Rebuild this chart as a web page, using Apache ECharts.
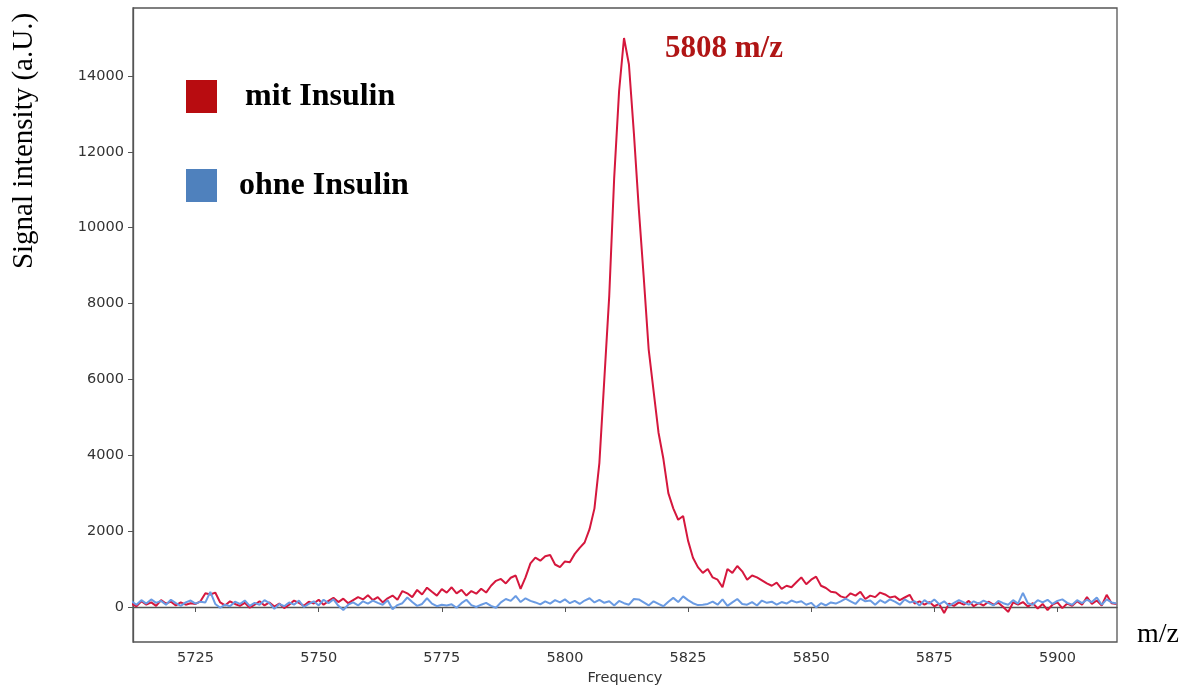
<!DOCTYPE html>
<html>
<head>
<meta charset="utf-8">
<script src="https://cdn.jsdelivr.net/npm/echarts@6/dist/echarts.min.js"></script>
<style>html,body{margin:0;padding:0;background:#fff;}#c{width:1195px;height:688px;}</style>
</head>
<body>
<div id="c"></div>
<script>
// m/z sampling grid: 5712 .. 5912, step 1
const mzStart = 5712;
const mzStep = 1;

const mitInsulin = [
  80,20,150,60,120,30,180,90,140,40,120,60,100,80,150,360,330,380,120,40,
  150,80,30,110,-20,60,150,40,120,10,90,-30,60,170,110,30,140,90,190,60,
  160,240,130,220,100,180,260,200,310,180,260,120,230,300,190,420,360,260,450,330,
  510,400,300,470,380,520,360,450,300,420,350,480,380,560,690,740,620,770,830,480,
  780,1150,1300,1220,1340,1370,1120,1050,1200,1180,1400,1560,1700,2050,2600,3800,6000,8200,11300,13600,
  15000,14300,12500,10500,8700,6800,5700,4600,3900,3000,2600,2300,2400,1750,1300,1050,900,1000,780,720,
  520,1000,900,1080,940,720,830,780,700,620,560,640,480,560,520,650,780,600,720,800,
  560,500,400,380,280,240,360,300,400,210,300,260,380,330,250,280,180,250,320,90,
  150,60,130,20,80,-160,90,30,120,60,160,20,100,40,140,60,110,0,-130,120,
  60,130,10,100,-40,80,-80,60,120,-30,90,30,150,60,260,80,170,40,320,100,
  80
];

const ohneInsulin = [
  150,60,180,90,200,110,160,60,190,100,30,120,170,90,140,120,400,80,-20,60,
  20,140,80,170,30,110,60,180,100,-50,80,20,120,60,170,0,80,150,40,190,
  100,200,30,-80,60,120,40,150,90,170,110,60,180,-60,50,100,250,130,30,80,
  230,90,20,60,40,70,-20,100,190,50,0,60,110,30,-20,120,210,160,290,130,
  230,160,120,70,150,90,180,120,200,100,160,80,170,230,120,190,110,150,40,160,
  100,60,210,200,120,40,150,80,20,140,240,130,280,180,100,50,60,80,140,60,
  200,30,120,210,80,60,130,40,170,110,140,60,130,90,170,120,150,60,110,-10,
  100,40,120,90,150,220,150,80,220,150,170,60,180,110,200,140,60,200,120,150,
  40,180,90,200,70,150,30,110,180,120,60,150,90,170,110,40,160,100,60,180,
  90,370,100,60,180,120,190,80,160,200,110,60,180,100,190,130,250,60,200,120,
  90
];

const xTicks = [5725, 5750, 5775, 5800, 5825, 5850, 5875, 5900];
const yTicks = [0, 2000, 4000, 6000, 8000, 10000, 12000, 14000];

function pairs(vals) {
  return vals.map((v, i) => [mzStart + i * mzStep, v]);
}

const chart = echarts.init(document.getElementById('c'), null, {renderer: 'canvas'});
const tickFont = {fontFamily: 'DejaVu Sans', fontSize: 14.5, color: '#333', formatter: v => String(v)};

chart.setOption({
  backgroundColor: '#fff',
  animation: false,
  grid: {left: 133, right: 78, top: 8, bottom: 46, show: true, borderColor: '#555', borderWidth: 1.3, backgroundColor: 'transparent', outerBoundsMode: 'none', containLabel: false},
  legend: {
    orient: 'vertical',
    left: 186,
    top: 80,
    padding: 0,
    itemWidth: 31,
    itemHeight: 33,
    itemGap: 56,
    selectedMode: false,
    data: [
      {name: 'mit Insulin', icon: 'rect', itemStyle: {color: '#b80c10'}, textStyle: {padding: [0, 0, 0, 23]}},
      {name: 'ohne Insulin', icon: 'rect', itemStyle: {color: '#4f81bd'}, textStyle: {padding: [0, 0, 0, 17]}}
    ],
    textStyle: {fontFamily: 'Liberation Serif', fontWeight: 'bold', fontSize: 32, color: '#000'}
  },
  xAxis: {
    type: 'value',
    min: 5712.3,
    max: 5912.1,
    name: 'Frequency',
    nameLocation: 'middle',
    nameGap: 28,
    nameTextStyle: {fontFamily: 'DejaVu Sans', fontSize: 14.5, color: '#333'},
    axisLine: {show: true, lineStyle: {color: '#555', width: 1.3}},
    axisTick: {show: true, length: 5, lineStyle: {color: '#555'}, customValues: xTicks},
    axisLabel: Object.assign({margin: 9, customValues: xTicks}, tickFont),
    splitLine: {show: false}
  },
  yAxis: {
    type: 'value',
    min: -923,
    max: 15790,
    axisLine: {show: true, lineStyle: {color: '#555', width: 1.3}},
    axisTick: {show: true, length: 5, lineStyle: {color: '#555'}, customValues: yTicks},
    axisLabel: Object.assign({margin: 9, customValues: yTicks}, tickFont),
    splitLine: {show: false}
  },
  series: [
    {
      name: 'mit Insulin',
      type: 'line',
      data: pairs(mitInsulin),
      showSymbol: false,
      lineStyle: {color: '#d5173d', width: 2},
      itemStyle: {color: '#d5173d'},
      z: 2
    },
    {
      name: 'ohne Insulin',
      type: 'line',
      data: pairs(ohneInsulin),
      showSymbol: false,
      lineStyle: {color: '#6a9be3', width: 2},
      itemStyle: {color: '#6a9be3'},
      z: 3
    }
  ],
  graphic: [
    {type: 'text', left: 665, top: 33, style: {text: '5808 m/z', fontFamily: 'Liberation Serif', fontWeight: 'bold', fontSize: 31, fill: '#b01515'}},
    {type: 'text', left: 1137, top: 621, style: {text: 'm/z', fontFamily: 'Liberation Serif', fontSize: 28, fill: '#000'}},
    {type: 'text', x: 24, y: 141, rotation: Math.PI / 2, style: {text: 'Signal intensity (a.U.)', fontFamily: 'Liberation Serif', fontSize: 29, fill: '#000', align: 'center', verticalAlign: 'middle'}}
  ]
});
</script>
</body>
</html>
